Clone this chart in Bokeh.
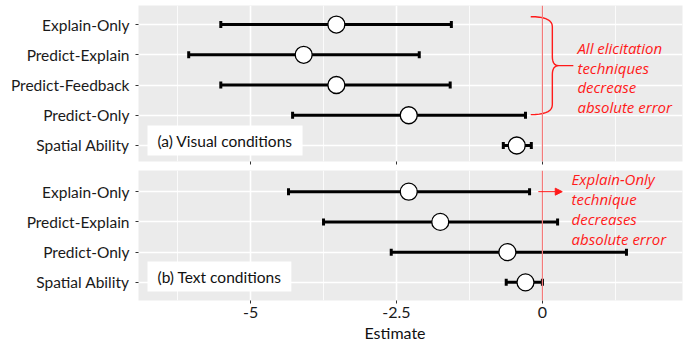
import numpy as np
from bokeh.plotting import figure
from bokeh.layouts import column
from bokeh.models import Range1d, FixedTicker, Span, Label, Arrow, NormalHead, Title
from bokeh.core.properties import value
from bokeh.embed import file_html
from bokeh.resources import INLINE

# ---- data ----
visual_terms = ["Explain-Only", "Predict-Explain", "Predict-Feedback", "Predict-Only", "Spatial Ability"]
visual_est = [-3.53, -4.09, -3.53, -2.29, -0.44]
visual_lo = [-5.51, -6.06, -5.51, -4.28, -0.67]
visual_hi = [-1.56, -2.11, -1.58, -0.29, -0.19]

text_terms = ["Explain-Only", "Predict-Explain", "Predict-Only", "Spatial Ability"]
text_est = [-2.29, -1.75, -0.60, -0.29]
text_lo = [-4.35, -3.75, -2.59, -0.62]
text_hi = [-0.22, 0.26, 1.44, 0.0]

x_major = [-5, -2.5, 0]
x_major_labels = ["-5", "-2.5", "0"]
x_minor = [-6.25, -3.75, -1.25, 1.25]
x_title = "Estimate"

visual_note = ["All elicitation", "techniques", "decrease", "absolute error"]
text_note = ["Explain-Only", "technique", "decreases", "absolute error"]
visual_title = "(a) Visual conditions"
text_title = "(b) Text conditions"

FONT = "Lato"
NOTE_FONT = "Open Sans"
RED = "#FF1A1A"
RED_LINE = "#F47A7A"


def make_panel(terms, est, lo, hi, height, y_start, y_end, border_top, border_bottom, show_labels):
    n = len(terms)
    ys = list(range(1, n + 1))
    p = figure(width=686, height=height, x_range=Range1d(-6.92, 2.4),
               y_range=Range1d(y_start, y_end), output_backend="svg",
               toolbar_location=None, min_border_left=138, min_border_right=4,
               min_border_top=border_top, min_border_bottom=border_bottom)
    p.background_fill_color = "#EBEBEB"
    p.border_fill_color = "white"
    p.outline_line_color = None

    p.xaxis.ticker = FixedTicker(ticks=x_major, minor_ticks=x_minor)
    p.xaxis.axis_line_color = None
    p.xaxis.major_tick_in = 0
    p.xaxis.major_tick_out = 3
    p.xaxis.major_tick_line_color = "#333333"
    p.xaxis.minor_tick_line_color = None
    p.xgrid.grid_line_color = "white"
    p.xgrid.grid_line_width = 1.6
    p.xgrid.minor_grid_line_color = "white"
    p.xgrid.minor_grid_line_width = 0.8
    if show_labels:
        p.xaxis.major_label_overrides = {t: s for t, s in zip(x_major, x_major_labels)}
        p.xaxis.major_label_text_font = FONT
        p.xaxis.major_label_text_font_size = "16px"
        p.xaxis.major_label_text_color = "#1a1a1a"
        p.xaxis.major_label_standoff = 2
    else:
        p.xaxis.major_label_overrides = {t: "" for t in x_major}
        p.xaxis.major_label_standoff = 0

    p.yaxis.ticker = FixedTicker(ticks=ys)
    p.yaxis.major_label_overrides = {y: t for y, t in zip(ys, terms)}
    p.yaxis.axis_line_color = None
    p.yaxis.major_tick_in = 0
    p.yaxis.major_tick_out = 3
    p.yaxis.major_tick_line_color = "#333333"
    p.yaxis.minor_tick_line_color = None
    p.yaxis.major_label_text_font = FONT
    p.yaxis.major_label_text_font_size = "15.5px"
    p.yaxis.major_label_text_color = "#1a1a1a"
    p.yaxis.major_label_standoff = 6
    p.ygrid.grid_line_color = "white"
    p.ygrid.grid_line_width = 1.6

    p.add_layout(Span(location=0, dimension="height", line_color=RED_LINE, line_width=1.2))

    p.segment(x0=lo, y0=ys, x1=hi, y1=ys, line_color="black", line_width=3)
    p.scatter(x=lo + hi, y=ys + ys, marker="dash", angle=np.pi / 2, size=7,
              line_color="black", line_width=3)
    p.scatter(x=est, y=ys, size=17, fill_color="white", line_color="black", line_width=1.3)
    return p


top = make_panel(visual_terms, visual_est, visual_lo, visual_hi, 170, 5.53, 0.37, 5, 9, False)
bot = make_panel(text_terms, text_est, text_lo, text_hi, 174, 4.6, 0.3, 0, 44, True)

# axis title below, placed a little left of centre as in the reference
bot.add_layout(Title(text=x_title, align="left", offset=226, text_font=FONT,
                     text_font_size="16px", text_font_style="normal",
                     text_color="#111111", standoff=0), "below")

# panel titles
top.add_layout(Label(x=9, y=6, x_units="screen", y_units="screen", text=visual_title,
                     text_font=FONT, text_font_size="15.5px", text_color="#111111",
                     background_fill_color="white",
                     padding=dict(left=10, right=10, top=6, bottom=6)))
bot.add_layout(Label(x=9, y=9, x_units="screen", y_units="screen", text=text_title,
                     text_font=FONT, text_font_size="15.5px", text_color="#111111",
                     background_fill_color="white",
                     padding=dict(left=10, right=10, top=6, bottom=6)))


# brace in top panel (spanning first four conditions)
def qbez(p0, c, p1, n=10):
    t = np.linspace(0, 1, n)
    x = (1 - t) ** 2 * p0[0] + 2 * (1 - t) * t * c[0] + t ** 2 * p1[0]
    y = (1 - t) ** 2 * p0[1] + 2 * (1 - t) * t * c[1] + t ** 2 * p1[1]
    return list(x), list(y)


y_top, y_bot = 0.74, 3.98
y_mid = (y_top + y_bot) / 2
x_tip, x_v, x_cusp, x_out = -0.2, 0.17, 0.28, 0.53
bx, by = [], []
for seg in [qbez((x_tip, y_top), (x_v, y_top), (x_v, y_top + 0.33)),
            qbez((x_v, y_mid - 0.3), (x_v, y_mid), (x_cusp, y_mid))]:
    bx += seg[0]; by += seg[1]
bx += [x_out, x_cusp]; by += [y_mid, y_mid]
for seg in [qbez((x_cusp, y_mid), (x_v, y_mid), (x_v, y_mid + 0.3)),
            qbez((x_v, y_bot - 0.33), (x_v, y_bot), (x_tip, y_bot))]:
    bx += seg[0]; by += seg[1]
top.line(bx, by, line_color=RED, line_width=1.4)

step = 0.661
top.text(x=[0.6] * len(visual_note), y=[1.76 + i * step for i in range(len(visual_note))],
         text=visual_note, text_font=value(NOTE_FONT), text_font_size="15px",
         text_font_style="italic", text_color=RED, text_baseline="middle", text_align="left")

bot.text(x=[0.5] * len(text_note), y=[0.57 + i * step for i in range(len(text_note))],
         text=text_note, text_font=value(NOTE_FONT), text_font_size="15px",
         text_font_style="italic", text_color=RED, text_baseline="middle", text_align="left")
bot.add_layout(Arrow(x_start=-0.07, y_start=1, x_end=0.34, y_end=1, line_color=RED, line_width=1,
                     end=NormalHead(size=7, fill_color=RED, line_color=RED)))

layout = column(top, bot, spacing=0)
open("out.html", "w").write(file_html(layout, INLINE))
